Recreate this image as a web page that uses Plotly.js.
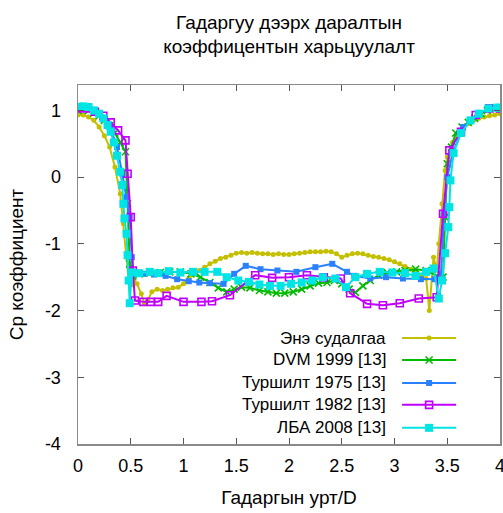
<!DOCTYPE html>
<html>
<head>
<meta charset="utf-8">
<script src="https://cdn.plot.ly/plotly-3.0.1.min.js"></script>
<style>
  html, body { margin: 0; padding: 0; background: #fff; }
  #chart { width: 503px; height: 513px; }
</style>
</head>
<body>
<div id="chart"></div>
<script>
// Pressure coefficient Cp along the surface (x = surface length / D)

const seriesNames = [
  'Энэ судалгаа',
  'DVM 1999 [13]',
  'Туршилт 1975 [13]',
  'Туршилт 1982 [13]',
  'ЛБА 2008 [13]'
];

// Энэ судалгаа
const xStudy = [0.00,0.05,0.10,0.15,0.20,0.25,0.30,0.35,0.40,0.43,0.46,0.48,0.50,0.53,0.56,0.60,0.63,0.66,0.70,0.75,
  0.80,0.85,0.90,0.95,1.00,1.05,1.10,1.15,1.20,1.25,1.30,1.35,1.40,1.45,1.50,1.55,1.60,1.65,1.70,1.75,
  1.80,1.85,1.90,1.95,2.00,2.05,2.10,2.15,2.20,2.25,2.30,2.35,2.40,2.45,2.50,2.55,2.60,2.65,2.70,2.75,
  2.80,2.85,2.90,2.95,3.00,3.05,3.10,3.15,3.20,3.25,3.30,3.33,3.37,3.40,3.42,3.45,3.48,3.50,3.55,3.60,
  3.65,3.70,3.75,3.80,3.85,3.90,3.95,4.00];
const yStudy = [0.93,0.93,0.90,0.85,0.75,0.62,0.45,0.15,-0.25,-0.70,-1.20,-1.55,-1.62,-1.55,-1.60,-1.75,-1.90,-1.85,-1.72,-1.68,
  -1.70,-1.68,-1.66,-1.65,-1.60,-1.52,-1.45,-1.40,-1.35,-1.30,-1.26,-1.22,-1.20,-1.17,-1.14,-1.13,-1.14,-1.13,-1.14,-1.15,
  -1.15,-1.16,-1.15,-1.16,-1.16,-1.15,-1.14,-1.13,-1.12,-1.12,-1.12,-1.11,-1.12,-1.15,-1.20,-1.17,-1.15,-1.14,-1.15,-1.17,
  -1.19,-1.20,-1.22,-1.24,-1.27,-1.30,-1.34,-1.38,-1.42,-1.47,-1.52,-2.00,-1.20,-1.40,-1.00,-0.40,0.10,0.30,0.52,0.66,
  0.74,0.80,0.85,0.88,0.90,0.92,0.93,0.95];

// DVM 1999 [13]
const xDvm = [0.00,0.05,0.10,0.15,0.20,0.25,0.30,0.35,0.40,0.45,0.47,0.49,0.52,0.58,0.68,0.78,0.87,0.97,1.07,1.16,
  1.25,1.33,1.41,1.48,1.55,1.63,1.72,1.80,1.88,1.96,2.04,2.12,2.20,2.28,2.36,2.43,2.50,2.57,2.63,2.70,
  2.77,2.85,2.93,3.02,3.10,3.20,3.30,3.40,3.46,3.48,3.50,3.54,3.58,3.64,3.70,3.76,3.82,3.88,3.94,4.00];
const yDvm = [1.00,1.02,1.00,0.96,0.92,0.85,0.77,0.66,0.52,0.38,-0.40,-1.30,-1.48,-1.45,-1.44,-1.43,-1.42,-1.42,-1.45,-1.50,
  -1.58,-1.66,-1.72,-1.68,-1.65,-1.66,-1.70,-1.72,-1.74,-1.74,-1.72,-1.68,-1.63,-1.59,-1.58,-1.55,-1.60,-1.68,-1.73,-1.63,
  -1.55,-1.47,-1.43,-1.42,-1.40,-1.38,-1.40,-1.48,-1.50,-0.60,0.20,0.45,0.66,0.75,0.82,0.88,0.95,1.00,1.03,1.02];

// Туршилт 1975 [13]
const xExp1975 = [0.00,0.08,0.16,0.24,0.31,0.37,0.42,0.46,0.49,0.51,0.53,0.62,0.72,0.83,0.94,1.05,1.15,1.25,1.38,1.48,
  1.59,1.73,1.89,2.07,2.25,2.41,2.55,2.62,2.77,2.92,3.08,3.25,3.38,3.44,3.47,3.50,3.55,3.65,3.79,3.91,4.00];
const yExp1975 = [1.05,1.05,0.98,0.88,0.72,0.45,0.05,-0.30,-0.60,-1.20,-1.45,-1.45,-1.46,-1.48,-1.53,-1.56,-1.58,-1.59,-1.60,-1.45,
  -1.33,-1.38,-1.40,-1.42,-1.35,-1.30,-1.42,-1.48,-1.52,-1.50,-1.52,-1.53,-1.53,-1.45,-0.55,0.00,0.35,0.75,0.93,1.05,1.05];

// Туршилт 1982 [13]
const xExp1982 = [0.00,0.08,0.16,0.24,0.31,0.38,0.45,0.47,0.50,0.52,0.54,0.62,0.69,0.76,0.84,1.00,1.17,1.27,1.44,1.68,
  1.84,2.00,2.17,2.33,2.49,2.58,2.74,2.89,3.05,3.23,3.40,3.46,3.52,3.63,3.77,3.90,4.00];
const yExp1982 = [1.03,1.03,0.98,0.92,0.82,0.70,0.55,0.05,-0.60,-1.40,-1.85,-1.87,-1.87,-1.87,-1.78,-1.87,-1.87,-1.86,-1.77,-1.47,
  -1.51,-1.50,-1.47,-1.50,-1.52,-1.74,-1.90,-1.92,-1.89,-1.82,-1.80,-0.55,0.40,0.68,0.93,1.03,1.03];

// ЛБА 2008 [13]
const xLba = [0.00,0.05,0.10,0.15,0.20,0.24,0.28,0.31,0.34,0.37,0.40,0.42,0.43,0.44,0.46,0.47,0.48,0.49,0.51,0.58,
  0.68,0.76,0.86,0.97,1.09,1.20,1.32,1.41,1.52,1.62,1.72,1.82,1.92,2.02,2.12,2.22,2.32,2.44,2.54,2.63,
  2.74,2.86,2.98,3.10,3.20,3.30,3.37,3.42,3.45,3.48,3.51,3.52,3.53,3.56,3.63,3.72,3.80,3.89,3.97,4.00];
const yLba = [1.05,1.06,1.05,1.00,0.95,0.88,0.78,0.68,0.52,0.32,0.08,-0.12,-0.40,-0.62,-0.85,-1.17,-1.55,-1.89,-1.43,-1.44,
  -1.42,-1.44,-1.41,-1.43,-1.42,-1.42,-1.42,-1.50,-1.55,-1.57,-1.61,-1.63,-1.63,-1.60,-1.58,-1.55,-1.50,-1.52,-1.65,-1.50,
  -1.45,-1.42,-1.43,-1.44,-1.48,-1.42,-1.37,-1.82,-1.55,-1.14,-0.75,-0.45,-0.05,0.36,0.66,0.85,0.95,1.03,1.04,1.04];

const xTicks = [0, 0.5, 1, 1.5, 2, 2.5, 3, 3.5, 4];
const yTicks = [1, 0, -1, -2, -3, -4];

const FONT = 'Liberation Sans, Arial, sans-serif';

const styles = [
  { color: '#c4c000', marker: { symbol: 'circle', size: 5 } },
  { color: '#00bb00', marker: { symbol: 'x-thin-open', size: 7, line: { width: 1.6, color: '#00bb00' } } },
  { color: '#2a80ff', marker: { symbol: 'square', size: 6 } },
  { color: '#c000ff', marker: { symbol: 'square-open', size: 7, line: { width: 1.6, color: '#c000ff' } } },
  { color: '#00e4e4', marker: { symbol: 'square', size: 8 } }
];

const xs = [xStudy, xDvm, xExp1975, xExp1982, xLba];
const ys = [yStudy, yDvm, yExp1975, yExp1982, yLba];

const traces = xs.map((x, i) => ({
  x: x, y: ys[i], type: 'scatter', mode: 'lines+markers',
  name: seriesNames[i], showlegend: false,
  line: { color: styles[i].color, width: 2 },
  marker: Object.assign({ color: styles[i].color }, styles[i].marker)
}));

// Key entries: label on the left, line sample with centred marker on the right
const keyRows = [0.295, 0.234, 0.170, 0.109, 0.045];
const annotations = [];
seriesNames.forEach((nm, i) => {
  const yk = keyRows[i];
  traces.push({
    x: [0.768, 0.832, 0.896], y: [yk, yk, yk], xaxis: 'x2', yaxis: 'y2',
    type: 'scatter', mode: 'lines+markers', showlegend: false, hoverinfo: 'skip',
    line: { color: styles[i].color, width: 2 },
    marker: Object.assign({ color: styles[i].color, opacity: [0, 1, 0] }, styles[i].marker)
  });
  annotations.push({
    xref: 'x2', yref: 'y2', x: 0.735, y: yk, xanchor: 'right', yanchor: 'middle',
    text: nm, showarrow: false, font: { family: FONT, size: 17, color: '#000' }
  });
});

const axisCommon = {
  showline: true, linecolor: '#8a8a8a', linewidth: 1.5, mirror: 'ticks',
  ticks: 'inside', ticklen: 6, tickcolor: '#555', tickwidth: 1,
  showgrid: false, zeroline: false, ticklabeloverflow: 'allow',
  tickfont: { family: FONT, size: 18, color: '#000' }
};

const layout = {
  width: 503, height: 513,
  margin: { l: 78, r: 3, t: 85, b: 69 },
  paper_bgcolor: '#fff', plot_bgcolor: '#fff',
  showlegend: false,
  title: {
    text: 'Гадаргуу дээрх даралтын<br>коэффицентын харьцуулалт',
    font: { family: FONT, size: 19, color: '#000' },
    x: 0.5, xref: 'paper', xanchor: 'center',
    y: 0.944, yref: 'container', yanchor: 'top'
  },
  xaxis: Object.assign({}, axisCommon, {
    range: [0, 4], tickvals: xTicks, ticktext: xTicks.map(String),
    ticklabelstandoff: 5,
    title: { text: 'Гадаргын урт/D', font: { family: FONT, size: 19, color: '#000' }, standoff: 15 }
  }),
  yaxis: Object.assign({}, axisCommon, {
    range: [-4, 1.38], tickvals: yTicks, ticktext: yTicks.map(String),
    ticklabelstandoff: 12,
    title: { text: 'Cp коэффициент', font: { family: FONT, size: 19, color: '#000' }, standoff: 16 }
  }),
  xaxis2: { overlaying: 'x', range: [0, 1], visible: false, fixedrange: true },
  yaxis2: { overlaying: 'y', range: [0, 1], visible: false, fixedrange: true },
  annotations: annotations
};

Plotly.newPlot('chart', traces, layout, { staticPlot: true, displayModeBar: false });
</script>
</body>
</html>
